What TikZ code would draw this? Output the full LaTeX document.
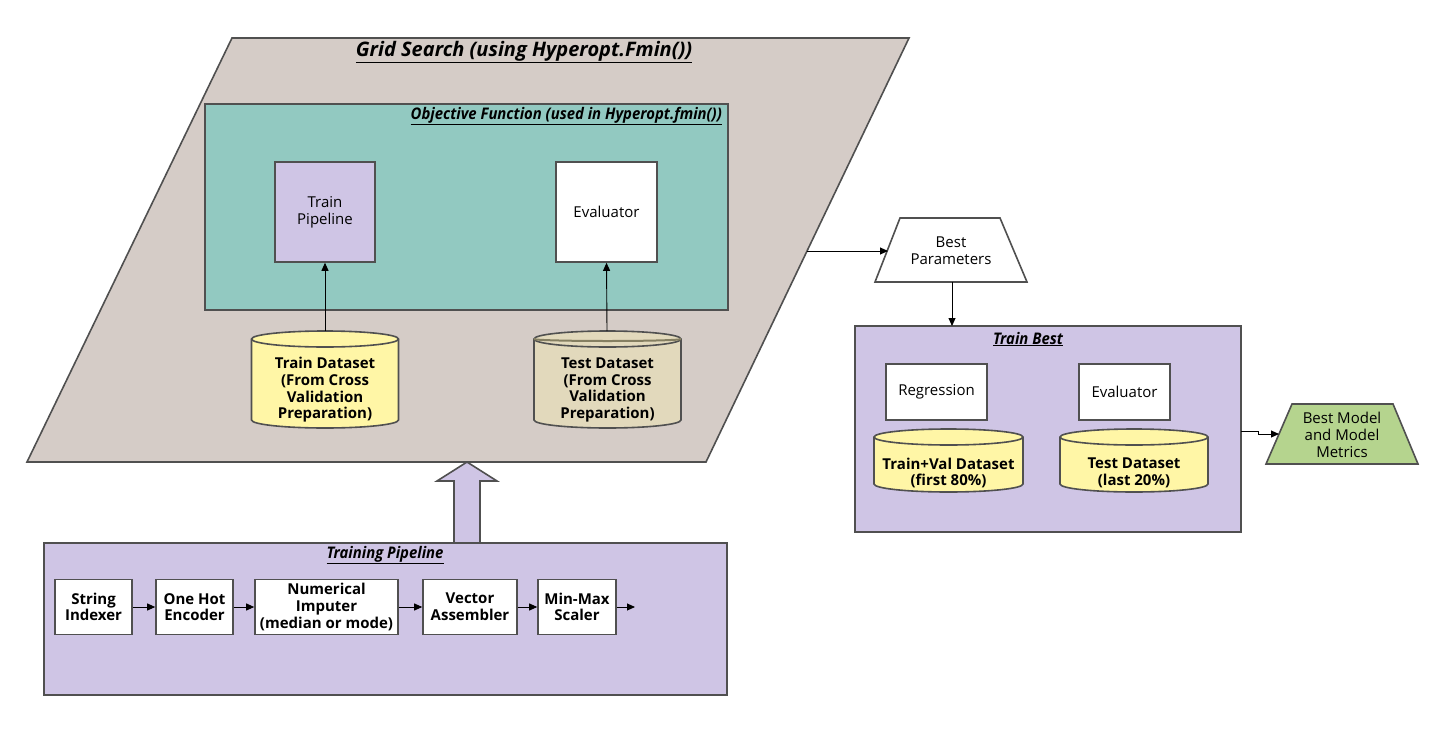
\documentclass[tikz,border=0pt]{standalone}
\usepackage{fontspec}
\setmainfont{Open Sans}
\newfontfamily\condfont[FakeStretch=0.93]{Open Sans}
\usetikzlibrary{arrows.meta}
\definecolor{linegray}{HTML}{505050}
\definecolor{gsfill}{HTML}{D5CCC7}
\definecolor{tealfill}{HTML}{92C9C1}
\definecolor{lavfill}{HTML}{CFC5E5}
\definecolor{yelfill}{HTML}{FFF6A6}
\definecolor{beigefill}{HTML}{E2D9BC}
\definecolor{greenfill}{HTML}{B5D48E}
\definecolor{oliveline}{HTML}{857F62}
\tikzset{
  outl/.style={draw=linegray, line width=1.6pt, line join=miter},
  rbox/.style={outl, fill=white, inner sep=0pt, align=center},
  arr/.style={-{Triangle[length=8pt,width=7pt]}, line width=0.9pt, draw=black},
  ttl/.style={font=\condfont\bfseries\itshape\fontsize{16}{19}\selectfont, inner sep=0pt},
  reg/.style={font=\fontsize{15}{16.7}\selectfont, align=center, inner sep=0pt},
  bld/.style={font=\bfseries\fontsize{15}{16.7}\selectfont, align=center, inner sep=0pt},
}
\newcommand\dbcyl[8]{%
  \draw[outl, fill=#6] (#2-#5,#3+8) -- (#2-#5,#4-8)
    arc[start angle=180,end angle=360,x radius=#5pt,y radius=8pt]
    -- (#2+#5,#3+8)
    arc[start angle=0,end angle=180,x radius=#5pt,y radius=8pt] -- cycle;
  \draw[outl] (#2-#5,#3+8) arc[start angle=180,end angle=360,x radius=#5pt,y radius=8pt];
  \coordinate (#1-top) at (#2,#3);
  \node[bld] (#1) at (#2,#8) {#7};
}
\begin{document}
\begin{tikzpicture}[x=1pt,y=-1pt]
\useasboundingbox (0,0) rectangle (1434,736);

% Grid search parallelogram
\coordinate (gsTL) at (232,38);
\coordinate (gsTR) at (909,38);
\coordinate (gsBR) at (706,462);
\coordinate (gsBL) at (27,462);
\coordinate (gsR) at (807,251);
\coordinate (gsB) at (467,462);
\draw[outl, fill=gsfill] (gsTL) -- (gsTR) -- (gsBR) -- (gsBL) -- cycle;
\node[ttl, font=\bfseries\itshape\fontsize{20}{24}\selectfont] (gstitle) at (524,52) {\underline{Grid Search (using Hyperopt.Fmin())}};

% Objective function
\node[outl, fill=tealfill, minimum width=523pt, minimum height=206pt, inner sep=0pt] (obj) at (466.5,207) {};
\node[ttl, anchor=east] (objtitle) at (722,116) {\underline{Objective Function (used in Hyperopt.fmin())}};
\node[rbox, fill=lavfill, minimum width=100pt, minimum height=100pt, reg] (trainpipe) at (325,212) {Train\\Pipeline};
\node[rbox, minimum width=101pt, minimum height=100pt, reg] (evalA) at (606.5,212) {Evaluator};

% Cylinders in grid search
\dbcyl{trds}{325}{331}{428}{73.5}{yelfill}{Train Dataset\\(From Cross\\Validation\\Preparation)}{390}
\dbcyl{teds}{607.5}{331}{428}{73.5}{beigefill}{Test Dataset\\(From Cross\\Validation\\Preparation)}{390}
\draw[draw=oliveline, line width=2pt] (534,339) arc[start angle=180,end angle=360,x radius=73.5pt,y radius=2pt];

\draw[arr] (trds-top) -- (trainpipe.south);
\draw[arr] (607,331) coordinate (tedsT) -- (evalA.south);

% Best parameters trapezoid
\coordinate (bpTL) at (900,218);
\coordinate (bpTR) at (1000,218);
\coordinate (bpBR) at (1027,282);
\coordinate (bpBL) at (875,282);
\coordinate (bpL) at (888,251);
\coordinate (bpB) at (952,282);
\draw[outl, fill=white] (bpTL) -- (bpTR) -- (bpBR) -- (bpBL) -- cycle;
\node[reg] (bp) at (951,251) {Best\\Parameters};
\draw[arr] (gsR) -- (bpL);

% Train best
\node[outl, fill=lavfill, minimum width=386pt, minimum height=206pt, inner sep=0pt] (tb) at (1048,429) {};
\node[ttl] (tbtitle) at (1028,339) {\underline{Train Best}};
\draw[arr] (bpB) -- (952,326) coordinate (tbT);
\node[rbox, minimum width=101pt, minimum height=56pt, reg] (regr) at (936.5,392) {Regression};
\node[rbox, minimum width=91pt, minimum height=56pt, reg] (evalB) at (1124.5,392) {Evaluator};
\dbcyl{tvds}{948.5}{429}{492}{74.5}{yelfill}{Train+Val Dataset\\(first 80\%)}{473}
\dbcyl{tsds}{1134}{429}{492}{74}{yelfill}{Test Dataset\\(last 20\%)}{473}

% Best model trapezoid
\coordinate (bmTL) at (1292,404);
\coordinate (bmTR) at (1393,404);
\coordinate (bmBR) at (1418,464);
\coordinate (bmBL) at (1266,464);
\coordinate (bmL) at (1279,434);
\draw[outl, fill=greenfill] (bmTL) -- (bmTR) -- (bmBR) -- (bmBL) -- cycle;
\node[reg] (bm) at (1342,435) {Best Model\\and Model\\Metrics};
\draw[arr] (1241,431) coordinate (tbR) -- (1258,431) -- (1258,434) -- (bmL);

% Fat arrow
\draw[outl, fill=lavfill] (454,543) -- (454,481) -- (437,481) -- (gsB) -- (497,481) -- (480,481) -- (480,543) -- cycle;

% Training pipeline
\node[outl, fill=lavfill, minimum width=683pt, minimum height=152pt, inner sep=0pt] (pipe) at (385.5,619) {};
\node[ttl] (pipetitle) at (385,555) {\underline{Training Pipeline}};
\node[rbox, bld, minimum width=77pt, minimum height=55pt] (si) at (93.5,607) {String\\Indexer};
\node[rbox, bld, minimum width=77pt, minimum height=55pt] (ohe) at (194.5,607) {One Hot\\Encoder};
\node[rbox, bld, minimum width=143pt, minimum height=55pt] (ni) at (326.5,607) {Numerical\\Imputer\\(median or mode)};
\node[rbox, bld, minimum width=94pt, minimum height=55pt] (va) at (470,607) {Vector\\Assembler};
\node[rbox, bld, minimum width=78pt, minimum height=55pt] (mm) at (577,607) {Min-Max\\Scaler};
\coordinate (pipeEnd) at (635,607);
\draw[arr] (si) -- (ohe);
\draw[arr] (ohe) -- (ni);
\draw[arr] (ni) -- (va);
\draw[arr] (va) -- (mm);
\draw[arr] (mm) -- (pipeEnd);
\end{tikzpicture}
\end{document}
